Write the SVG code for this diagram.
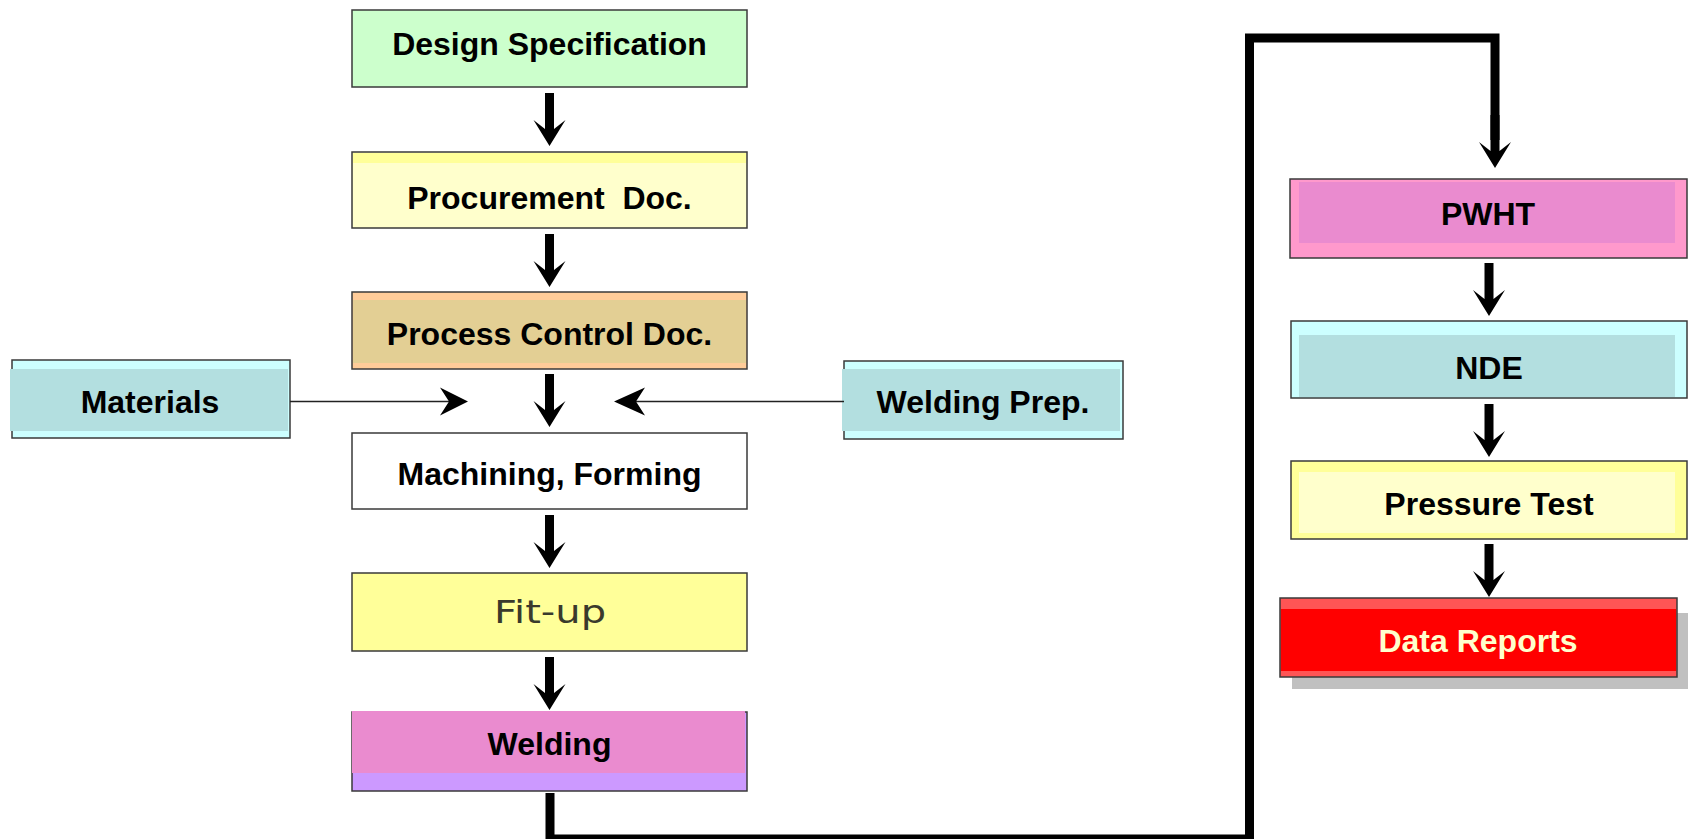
<svg xmlns="http://www.w3.org/2000/svg" xmlns:xlink="http://www.w3.org/1999/xlink" width="1688" height="839" viewBox="0 0 1688 839">
  <style>
    .frame { stroke: #3a3a3a; stroke-width: 1.5; }
    .label { font-family: "Liberation Sans", Arial, sans-serif; font-size: 32px; font-weight: bold; fill: #000; text-anchor: middle; }
    .thin { stroke: #222; stroke-width: 1.5; fill: none; }
    .thick { stroke: #000; stroke-width: 9; fill: none; stroke-linejoin: miter; }
  </style>
  <defs>
    <!-- block arrow, tip at origin, pointing down -->
    <path id="arr" d="M-4.5,-53 H4.5 V-17 L16,-26 L0,0 L-16,-26 L-4.5,-17 Z" fill="#000"/>
  </defs>
  <rect width="1688" height="839" fill="#fff"/>

  <!-- left column -->
  <g id="design-spec">
    <rect class="frame" x="352" y="10" width="395" height="77" fill="#CCFFCC"/>
    <text class="label" x="549.5" y="55">Design Specification</text>
  </g>
  <g id="procurement">
    <rect class="frame" x="352" y="152" width="395" height="76" fill="#FFFFCC"/>
    <rect x="353" y="153" width="393" height="10" fill="#FFFF99"/>
    <text class="label" x="549.5" y="209" style="white-space:pre">Procurement  Doc.</text>
  </g>
  <g id="process-control">
    <rect class="frame" x="352" y="292" width="395" height="77" fill="#FFCC99"/>
    <rect x="353" y="300" width="393" height="63" fill="#E3CF94"/>
    <text class="label" x="549.5" y="345">Process Control Doc.</text>
  </g>
  <g id="materials">
    <rect class="frame" x="12" y="360" width="278" height="78" fill="#CCFFFF"/>
    <rect x="10" y="369" width="278" height="62" fill="#B3DFE0"/>
    <text class="label" x="150" y="413">Materials</text>
  </g>
  <g id="welding-prep">
    <rect class="frame" x="844" y="361" width="279" height="78" fill="#CCFFFF"/>
    <rect x="842" y="369" width="278" height="62" fill="#B3DFE0"/>
    <text class="label" x="983" y="413">Welding Prep.</text>
  </g>
  <g id="machining">
    <rect class="frame" x="352" y="433" width="395" height="76" fill="#FFFFFF"/>
    <text class="label" x="549.5" y="485">Machining, Forming</text>
  </g>
  <g id="fit-up">
    <rect class="frame" x="352" y="573" width="395" height="78" fill="#FFFF99"/>
    <text x="550" y="623" text-anchor="middle" textLength="112" lengthAdjust="spacingAndGlyphs" style="font-family:'DejaVu Sans','Liberation Sans',sans-serif;font-size:32px;fill:#3a3a2c">Fit-up</text>
  </g>
  <g id="welding">
    <rect class="frame" x="352" y="712" width="395" height="79" fill="#CC99FF"/>
    <rect x="352" y="711" width="393" height="62" fill="#EA8BCF"/>
    <text class="label" x="549.5" y="755">Welding</text>
  </g>

  <!-- right column -->
  <g id="pwht">
    <rect class="frame" x="1290" y="179" width="397" height="79" fill="#FF99CC"/>
    <rect x="1299" y="182" width="376" height="61" fill="#EA8BCF"/>
    <text class="label" x="1488" y="225">PWHT</text>
  </g>
  <g id="nde">
    <rect class="frame" x="1291" y="321" width="396" height="77" fill="#CCFFFF"/>
    <rect x="1299" y="335" width="376" height="62" fill="#B3DFE0"/>
    <text class="label" x="1489" y="379">NDE</text>
  </g>
  <g id="pressure-test">
    <rect class="frame" x="1291" y="461" width="396" height="78" fill="#FFFF99"/>
    <rect x="1299" y="472" width="376" height="61" fill="#FFFFCC"/>
    <text class="label" x="1489" y="515">Pressure Test</text>
  </g>
  <g id="data-reports">
    <rect x="1292" y="613" width="396" height="76" fill="#C0C0C0"/>
    <rect class="frame" x="1280" y="598" width="397" height="79" fill="#FF5555"/>
    <rect x="1281" y="609" width="395" height="62" fill="#FF0000"/>
    <text class="label" x="1478" y="652" style="fill:#FFFFCC">Data Reports</text>
  </g>

  <!-- connectors -->
  <g id="connectors">
    <use xlink:href="#arr" href="#arr" transform="translate(549.5,146)"/>
    <use xlink:href="#arr" href="#arr" transform="translate(549.5,287)"/>
    <use xlink:href="#arr" href="#arr" transform="translate(549.5,427)"/>
    <use xlink:href="#arr" href="#arr" transform="translate(549.5,568)"/>
    <use xlink:href="#arr" href="#arr" transform="translate(549.5,710)"/>

    <line class="thin" x1="290" y1="401.5" x2="452" y2="401.5"/>
    <polygon points="468,401.5 440,387.5 449,401.5 440,415.5" fill="#000"/>
    <line class="thin" x1="844" y1="401.5" x2="630" y2="401.5"/>
    <polygon points="614,401.5 645,387.5 636,401.5 645,415.5" fill="#000"/>

    <polyline class="thick" points="550,793 550,839 1249.5,839 1249.5,38 1495,38 1495,140"/>
    <use xlink:href="#arr" href="#arr" transform="translate(1495,168)"/>

    <use xlink:href="#arr" href="#arr" transform="translate(1489,316)"/>
    <use xlink:href="#arr" href="#arr" transform="translate(1489,457)"/>
    <use xlink:href="#arr" href="#arr" transform="translate(1489,597)"/>
  </g>
</svg>
